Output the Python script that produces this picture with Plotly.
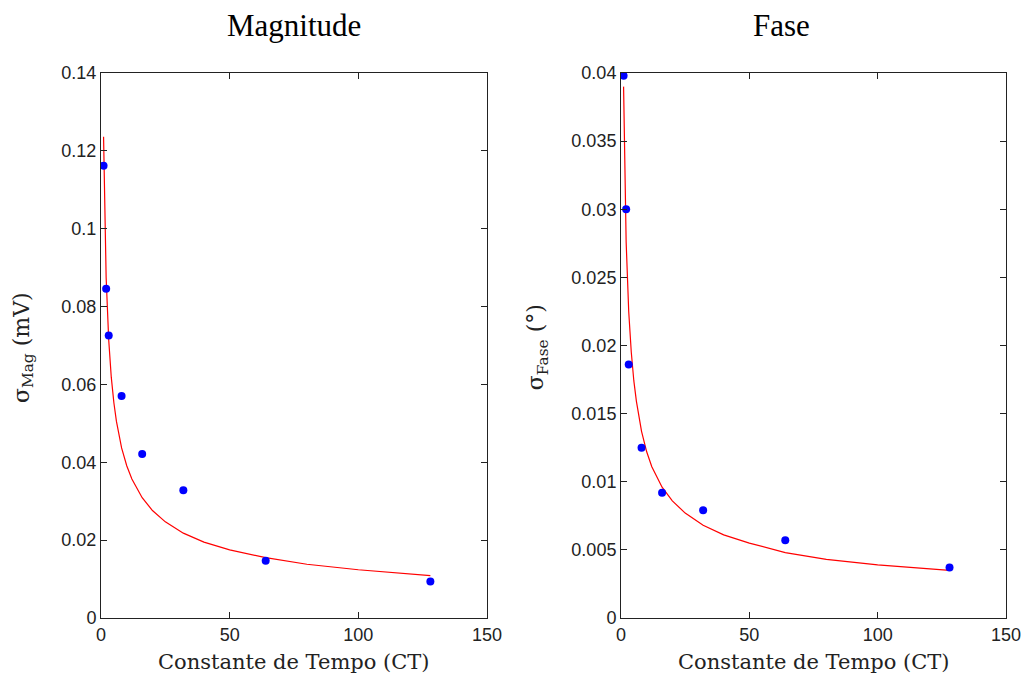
import plotly.graph_objects as go
from plotly.subplots import make_subplots

# Measured points
ct = [1, 2, 3, 8, 16, 32, 64, 128]
sigma_mag = [0.1162, 0.0846, 0.0726, 0.0570, 0.0421, 0.0328, 0.0147, 0.0094]
sigma_fase = [0.0398, 0.0300, 0.0186, 0.0125, 0.0092, 0.0079, 0.0057, 0.0037]

# Fitted curves
ct_fit = [1, 1.5, 2, 3, 4, 5, 6, 8, 10, 12, 16, 20, 25, 32, 40, 50, 64, 80, 100, 128]
mag_fit = [0.1236, 0.1009, 0.0874, 0.0714, 0.0618, 0.0553, 0.0505, 0.0437, 0.0391, 0.0357,
           0.0309, 0.0276, 0.0247, 0.0218, 0.0195, 0.0175, 0.0155, 0.0138, 0.0124, 0.0109]
fase_fit = [0.0390, 0.0318, 0.0276, 0.0225, 0.0195, 0.0174, 0.0159, 0.0137, 0.0122, 0.0111,
            0.0096, 0.0086, 0.0077, 0.0068, 0.0061, 0.0055, 0.0048, 0.0043, 0.0039, 0.0035]

x_ticks = [0, 50, 100, 150]
mag_ticks = [0, 0.02, 0.04, 0.06, 0.08, 0.1, 0.12, 0.14]
mag_labels = ["0", "0.02", "0.04", "0.06", "0.08", "0.1", "0.12", "0.14"]
fase_ticks = [0, 0.005, 0.01, 0.015, 0.02, 0.025, 0.03, 0.035, 0.04]
fase_labels = ["0", "0.005", "0.01", "0.015", "0.02", "0.025", "0.03", "0.035", "0.04"]

fig = make_subplots(rows=1, cols=2, horizontal_spacing=0.05)

fig.add_trace(go.Scatter(x=ct_fit, y=mag_fit, mode="lines",
                         line=dict(color="#ff0000", width=1.2), showlegend=False), 1, 1)
fig.add_trace(go.Scatter(x=ct, y=sigma_mag, mode="markers",
                         marker=dict(color="#0000ff", size=8), showlegend=False), 1, 1)
fig.add_trace(go.Scatter(x=ct_fit, y=fase_fit, mode="lines",
                         line=dict(color="#ff0000", width=1.2), showlegend=False), 1, 2)
fig.add_trace(go.Scatter(x=ct, y=sigma_fase, mode="markers",
                         marker=dict(color="#0000ff", size=8), showlegend=False), 1, 2)

tickfont = dict(family="Liberation Sans, Arial, sans-serif", size=18, color="#222222")
axis_common = dict(showgrid=False, zeroline=False, showline=True, linecolor="#222222",
                   linewidth=1, mirror="allticks", ticks="inside", ticklen=6,
                   tickcolor="#222222", tickfont=tickfont, automargin=False)

fig.update_xaxes(range=[0, 150], tickvals=x_ticks, ticktext=[str(v) for v in x_ticks],
                 **axis_common)
fig.update_xaxes(domain=[0, 0.4265], row=1, col=1)
fig.update_xaxes(domain=[0.5746, 1.0], row=1, col=2)
fig.update_yaxes(range=[0, 0.14], tickvals=mag_ticks, ticktext=mag_labels, row=1, col=1,
                 **axis_common)
fig.update_yaxes(range=[0, 0.04], tickvals=fase_ticks, ticktext=fase_labels, row=1, col=2,
                 **axis_common)

serif = "Liberation Serif, Times New Roman, serif"
label_serif = "DejaVu Serif, serif"
ann = [
    dict(text="Magnitude", x=0.2132, y=1.088, xref="paper", yref="paper",
         showarrow=False, xanchor="center", yanchor="middle",
         font=dict(family=serif, size=31, color="black")),
    dict(text="Fase", x=0.7514, y=1.088, xref="paper", yref="paper",
         showarrow=False, xanchor="center", yanchor="middle",
         font=dict(family=serif, size=31, color="black")),
    dict(text="Constante de Tempo (CT)", x=0.2132, y=-0.08, xref="paper", yref="paper",
         showarrow=False, xanchor="center", yanchor="middle",
         font=dict(family=label_serif, size=21, color="#222222")),
    dict(text="Constante de Tempo (CT)", x=0.7873, y=-0.08, xref="paper", yref="paper",
         showarrow=False, xanchor="center", yanchor="middle",
         font=dict(family=label_serif, size=21, color="#222222")),
    dict(text="σ<sub>Mag</sub> (mV)", x=-0.0862, y=0.497, xref="paper", yref="paper",
         showarrow=False, textangle=-90, xanchor="center", yanchor="middle",
         font=dict(family=label_serif, size=22, color="#222222")),
    dict(text="σ<sub>Fase</sub> (°)", x=0.4818, y=0.497, xref="paper", yref="paper",
         showarrow=False, textangle=-90, xanchor="center", yanchor="middle",
         font=dict(family=label_serif, size=22, color="#222222")),
]

fig.update_layout(width=1026, height=682, margin=dict(l=101, r=20, t=73, b=64, autoexpand=False),
                  plot_bgcolor="white", paper_bgcolor="white", annotations=ann)

fig.write_html("out.html", config={"displayModeBar": False},
               post_script="document.body.style.margin='0';document.body.style.overflow='hidden';")
